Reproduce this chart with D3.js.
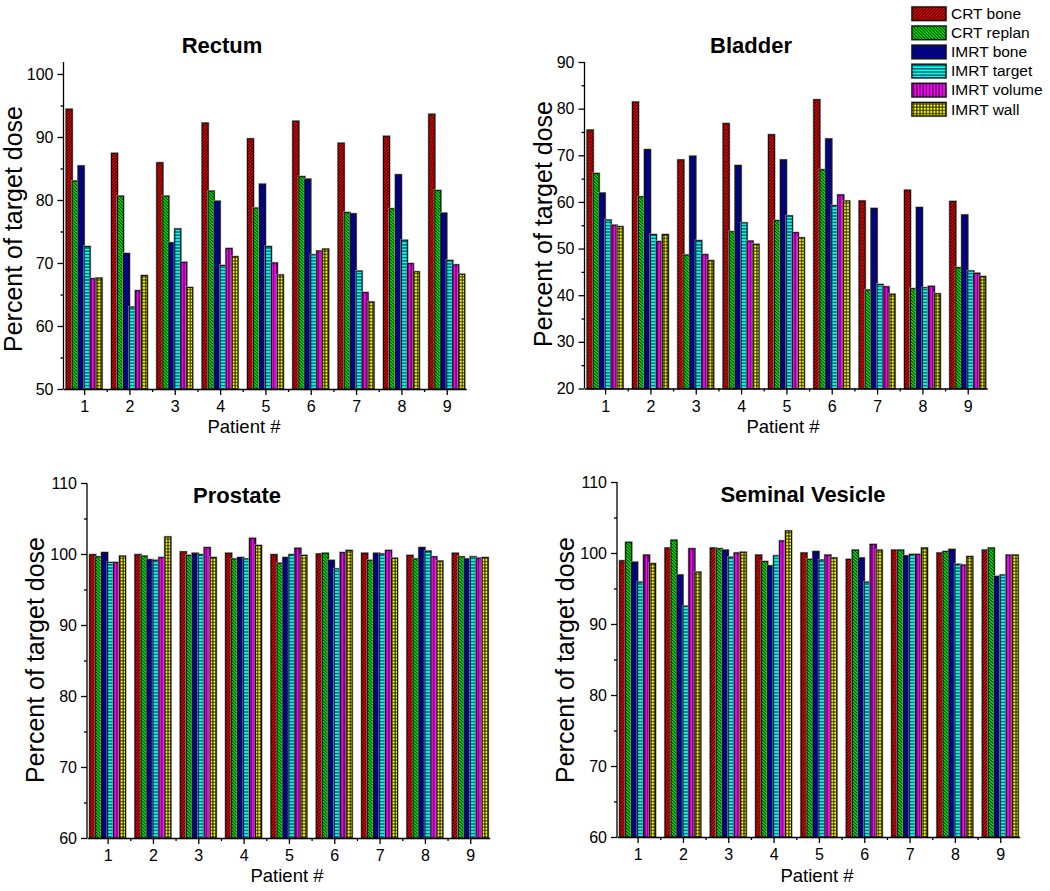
<!DOCTYPE html>
<html><head><meta charset="utf-8">
<script src="https://cdn.jsdelivr.net/npm/d3@7"></script>
<style>body{margin:0;background:#fff}svg{display:block}text{font-family:Arial,"Liberation Sans",sans-serif}</style>
</head><body>
<script>
const categories = [1,2,3,4,5,6,7,8,9];
const seriesNames = ["CRT bone","CRT replan","IMRT bone","IMRT target","IMRT volume","IMRT wall"];
const seriesColors = ["#ff0000","#00ff00","#0000ff","#00ffff","#ff00ff","#ffff00"];
const seriesPatterns = ["fwd","back","cross","horiz","vert","grid"];

const rectumValues = [
  [94.4, 87.4, 85.9, 92.2, 89.7, 92.5, 89.0, 90.1, 93.6],
  [83.0, 80.6, 80.6, 81.4, 78.7, 83.7, 78.0, 78.6, 81.5],
  [85.4, 71.5, 73.2, 79.8, 82.5, 83.3, 77.8, 84.0, 77.9],
  [72.6, 63.0, 75.4, 69.6, 72.6, 71.3, 68.7, 73.6, 70.4],
  [67.5, 65.6, 70.1, 72.3, 70.0, 71.9, 65.3, 69.9, 69.7],
  [67.6, 68.0, 66.1, 71.0, 68.1, 72.2, 63.8, 68.6, 68.2]
];
const bladderValues = [
  [75.4, 81.4, 69.0, 76.8, 74.4, 81.9, 60.2, 62.5, 60.1],
  [66.1, 61.1, 48.6, 53.6, 56.0, 66.9, 41.1, 41.4, 45.9],
  [61.9, 71.2, 69.8, 67.8, 69.0, 73.5, 58.6, 58.8, 57.2],
  [56.1, 53.0, 51.7, 55.5, 57.0, 59.2, 42.3, 41.6, 45.2],
  [55.0, 51.5, 48.7, 51.6, 53.4, 61.5, 41.8, 41.9, 44.7],
  [54.7, 53.0, 47.4, 50.9, 52.3, 60.2, 40.2, 40.3, 44.0]
];
const prostateValues = [
  [99.9, 99.9, 100.3, 100.1, 99.9, 100.0, 100.1, 99.8, 100.1],
  [99.6, 99.7, 99.8, 99.3, 98.7, 100.1, 99.1, 99.3, 99.6],
  [100.2, 99.2, 100.1, 99.5, 99.5, 99.1, 100.1, 100.9, 99.3],
  [98.8, 99.1, 99.9, 99.3, 99.9, 97.9, 100.0, 100.4, 99.6],
  [98.8, 99.5, 100.9, 102.2, 100.8, 100.2, 100.5, 99.6, 99.4],
  [99.7, 102.4, 99.5, 101.2, 99.8, 100.5, 99.4, 99.0, 99.5]
];
const vesicleValues = [
  [98.9, 100.7, 100.7, 99.7, 100.0, 99.1, 100.4, 100.0, 100.4],
  [101.5, 101.8, 100.6, 98.8, 99.1, 100.4, 100.4, 100.2, 100.7],
  [98.7, 96.9, 100.4, 98.2, 100.2, 99.3, 99.6, 100.5, 96.7],
  [95.9, 92.5, 99.4, 99.6, 99.0, 95.9, 99.8, 98.4, 96.9],
  [99.7, 100.6, 100.0, 101.7, 99.7, 101.2, 99.8, 98.3, 99.7],
  [98.5, 97.3, 100.1, 103.1, 99.3, 100.4, 100.7, 99.5, 99.7]
];
const rectumTicks = [50,60,70,80,90,100];
const bladderTicks = [20,30,40,50,60,70,80,90];
const prostateTicks = [60,70,80,90,100,110];
const vesicleTicks = [60,70,80,90,100,110];

const panels = [
  {title:"Rectum", values:rectumValues, ticks:rectumTicks, ymin:50, ymax:101.9, x0:63.5, top:62, bottom:389,
   titleX:222, titleY:53, ylabX:22, ylabY:229, xlabX:244, xlabY:433},
  {title:"Bladder", values:bladderValues, ticks:bladderTicks, ymin:20, ymax:90, x0:584.5, top:62, bottom:388.5,
   titleX:751, titleY:53, ylabX:552, ylabY:224, xlabX:783, xlabY:433},
  {title:"Prostate", values:prostateValues, ticks:prostateTicks, ymin:60, ymax:110, x0:87, top:483, bottom:838,
   titleX:237, titleY:503, ylabX:44, ylabY:660, xlabX:287, xlabY:882},
  {title:"Seminal Vesicle", values:vesicleValues, ticks:vesicleTicks, ymin:60, ymax:110, x0:617, top:482, bottom:837,
   titleX:803, titleY:502, ylabX:574, ylabY:660, xlabX:817, xlabY:882}
];

const W = 1050, H = 891;
const svg = d3.select("body").append("svg").attr("width", W).attr("height", H);
const defs = svg.append("defs");

function makePattern(id, color, kind){
  const s = 3.2;
  const p = defs.append("pattern").attr("id", id).attr("patternUnits","userSpaceOnUse")
    .attr("width", s).attr("height", s);
  p.append("rect").attr("width", s).attr("height", s).attr("fill", color);
  const g = p.append("g").attr("stroke","#000").attr("stroke-width",0.9).attr("fill","none");
  if (kind==="fwd") g.append("path").attr("d",`M${-s/2},${s/2} L${s/2},${-s/2} M0,${s} L${s},0 M${s/2},${s*1.5} L${s*1.5},${s/2}`);
  if (kind==="back") g.append("path").attr("d",`M${-s/2},${s/2} L${s/2},${s*1.5} M0,0 L${s},${s} M${s/2},${-s/2} L${s*1.5},${s/2}`);
  if (kind==="cross") { g.attr("stroke-width",0.8); g.append("path").attr("d",`M${-s/2},${s/2} L${s/2},${-s/2} M0,${s} L${s},0 M${s/2},${s*1.5} L${s*1.5},${s/2} M${-s/2},${s/2} L${s/2},${s*1.5} M0,0 L${s},${s} M${s/2},${-s/2} L${s*1.5},${s/2}`); }
  if (kind==="horiz") g.append("path").attr("d",`M0,${s/2} L${s},${s/2}`);
  if (kind==="vert") g.append("path").attr("d",`M${s/2},0 L${s/2},${s}`);
  if (kind==="grid") g.append("path").attr("d",`M0,${s/2} L${s},${s/2} M${s/2},0 L${s/2},${s}`);
}
seriesNames.forEach((n,i)=>makePattern("pat"+i, seriesColors[i], seriesPatterns[i]));

const spacing = 45.33;
const groupUnits = 0.79;
panels.forEach(P => {
  const g = svg.append("g");
  const xStart = 1 - 20.6/spacing, xEnd = 9 + 19.5/spacing;
  const x = d3.scaleLinear().domain([xStart, xEnd]).range([P.x0, P.x0 + (xEnd-xStart)*spacing]);
  const y = d3.scaleLinear().domain([P.ymin, P.ymax]).range([P.bottom, P.top]);
  const bw = groupUnits/seriesNames.length;

  // bars
  P.values.forEach((vals, si) => {
    const data = categories.map((c,i)=>({c, v: vals[i]}));
    const gx = d => x(d.c - groupUnits/2 + si*bw);
    const gw = d => x(d.c - groupUnits/2 + (si+1)*bw) - x(d.c - groupUnits/2 + si*bw);
    const bg = g.append("g");
    bg.selectAll("rect.sh").data(data).join("rect").attr("class","sh")
      .attr("x", gx).attr("width", gw)
      .attr("y", d => y(d.v)).attr("height", d => y(P.ymin) - y(d.v))
      .attr("fill", "none").attr("stroke", "#999").attr("stroke-width", 2.2);
    bg.selectAll("rect.bar").data(data).join("rect").attr("class","bar")
      .attr("x", gx).attr("width", gw)
      .attr("y", d => y(d.v)).attr("height", d => y(P.ymin) - y(d.v))
      .attr("fill", `url(#pat${si})`)
      .attr("stroke", "#111").attr("stroke-width", 1);
  });

  // y axis
  const minorY = d3.range(P.ymin, P.ymax + 0.001, 5).filter(v => !P.ticks.includes(v));
  const yAxis = g.append("g").attr("transform", `translate(${P.x0},0)`)
    .call(d3.axisLeft(y).tickValues(P.ticks).tickSize(6).tickSizeOuter(0).tickPadding(4));
  yAxis.select(".domain").attr("d", `M0,${P.bottom}V${P.top}`);
  g.append("g").attr("transform", `translate(${P.x0},0)`)
    .call(d3.axisLeft(y).tickValues(minorY).tickSize(3).tickFormat(""))
    .select(".domain").remove();

  // x axis
  g.append("g").attr("transform", `translate(0,${P.bottom})`)
    .call(d3.axisBottom(x).tickValues(categories).tickSize(6).tickSizeOuter(0).tickPadding(6).tickFormat(d3.format("d")));
  g.append("g").attr("transform", `translate(0,${P.bottom})`)
    .call(d3.axisBottom(x).tickValues(d3.range(1.5, 9, 1)).tickSize(3).tickFormat(""))
    .select(".domain").remove();

  g.selectAll(".tick text").attr("font-size", 16).attr("fill", "#000")
    .attr("font-family", "Arial, 'Liberation Sans', sans-serif");
  g.selectAll(".domain, .tick line").attr("stroke", "#000").attr("stroke-width", 1.3);

  // titles
  g.append("text").attr("x", P.titleX).attr("y", P.titleY).attr("text-anchor","middle")
    .attr("font-size", 22).attr("font-weight","bold").text(P.title);
  g.append("text").attr("transform", `translate(${P.ylabX},${P.ylabY}) rotate(-90)`)
    .attr("text-anchor","middle").attr("font-size", 25).text("Percent of target dose");
  g.append("text").attr("x", P.xlabX).attr("y", P.xlabY).attr("text-anchor","middle")
    .attr("font-size", 18.5).text("Patient #");
});

// legend
const leg = svg.append("g");
seriesNames.forEach((n, i) => {
  const yy = 7 + i*19.1;
  leg.append("rect").attr("x", 912).attr("y", yy).attr("width", 34).attr("height", 13.5)
    .attr("fill", "none").attr("stroke", "#999").attr("stroke-width", 2.2);
  leg.append("rect").attr("x", 912).attr("y", yy).attr("width", 34).attr("height", 13.5)
    .attr("fill", `url(#pat${i})`).attr("stroke", "#111").attr("stroke-width", 1.2);
  leg.append("text").attr("x", 951).attr("y", yy + 12).attr("font-size", 15.5).text(n);
});
</script>
</body></html>
